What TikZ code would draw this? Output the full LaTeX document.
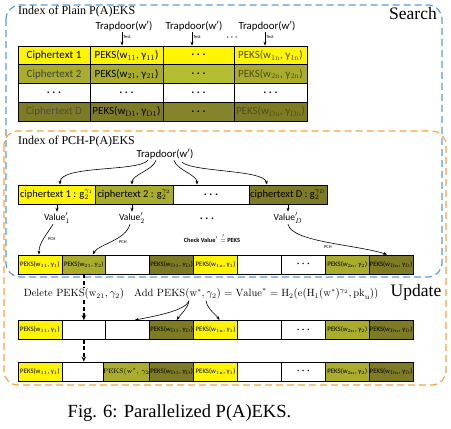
\documentclass[tikz,border=0pt]{standalone}
\usepackage{fontspec}
\newfontfamily\carl{Carlito}
\newfontfamily\tms{Liberation Serif}
\usetikzlibrary{arrows.meta}
\definecolor{yel}{HTML}{FFF500}
\definecolor{olv}{HTML}{A9AD2B}
\definecolor{olvL}{HTML}{B4BC2F}
\definecolor{dol}{HTML}{7E7B25}
\definecolor{dolL}{HTML}{86842A}
\definecolor{bluedash}{HTML}{5B9BD5}
\definecolor{orangedash}{HTML}{F4A340}
\definecolor{olvtxt}{HTML}{4E4E18}
\newcommand{\fsz}[1]{\fontsize{#1}{#1}\selectfont}
\newcommand{\pk}[2]{PEKS(w$_{\mathrm{#1}}$, γ$_{\mathrm{#2}}$)}
\newcommand{\dd}{{\boldmath$\cdots$}}
\begin{document}
\begin{tikzpicture}[x=1pt,y=-1pt,
  bigcell/.style={draw=black,line width=0.8pt,inner sep=0pt,minimum height=18.75pt,font=\carl\fsz{11}},
  midcell/.style={draw=black,line width=0.8pt,inner sep=0pt,minimum height=19pt,font=\carl\fsz{10.5}},
  smallcell/.style={draw=black,line width=0.8pt,inner sep=0pt,minimum height=19pt,minimum width=43.9pt,font=\carl\fsz{6.8}},
  arr/.style={line width=0.6pt,-{Stealth[length=4pt,width=3pt]}},
  darr/.style={line width=1.3pt,dash pattern=on 4pt off 2.5pt,-{Stealth[length=5pt,width=4.5pt]}},
  lbl/.style={inner sep=1pt},
  tiny/.style={inner sep=1pt,font=\carl\fsz{4.5}},
  boxblue/.style={draw=bluedash,line width=1.2pt,dash pattern=on 7pt off 4pt,rounded corners=14pt},
  boxorange/.style={draw=orangedash,line width=1.2pt,dash pattern=on 7pt off 4pt,rounded corners=14pt}
]
\useasboundingbox (0,0) rectangle (451,429);
% frames
\draw[boxorange] (4,131) rectangle (446,385);
\draw[boxblue] (6,5) rectangle (442,277);
% ---------- Search: plain index ----------
\node[lbl,anchor=west,font=\tms\fsz{12}] (idx1) at (17,12) {Index of Plain P(A)EKS};
\node[lbl,font=\tms\fsz{17.5}] (search) at (413,14) {Search};
\node[lbl,font=\carl\fsz{10.8}] (tdA) at (124,26) {Trapdoor(w$'$)};
\node[lbl,font=\carl\fsz{10.8}] (tdB) at (194,26) {Trapdoor(w$'$)};
\node[inner sep=0pt,font=\carl\fsz{8}] (tdD) at (232,38) {\dd};
\node[lbl,font=\carl\fsz{10.8}] (tdC) at (267,26) {Trapdoor(w$'$)};
% table rows
\node[bigcell,fill=yel,minimum width=72pt] (t11) at (54,55.4) {Ciphertext 1};
\node[bigcell,fill=yel,minimum width=73pt] (t12) at (126.5,55.4) {\pk{11}{11}};
\node[bigcell,fill=yel,minimum width=71pt] (t13) at (198.5,55.4) {\dd};
\node[bigcell,fill=yel,minimum width=73pt,text=olvtxt] (t14) at (270.5,55.4) {\pk{1n}{1n}};
\node[bigcell,fill=olv,minimum width=72pt,text=black!75] (t21) at (54,74.1) {Ciphertext 2};
\node[bigcell,fill=olv,minimum width=73pt] (t22) at (126.5,74.1) {\pk{21}{21}};
\node[bigcell,fill=olvL,minimum width=71pt] (t23) at (198.5,74.1) {\dd};
\node[bigcell,fill=olv,minimum width=73pt,text=olvtxt] (t24) at (270.5,74.1) {\pk{2n}{2n}};
\node[bigcell,fill=white,minimum width=72pt] (t31) at (54,92.9) {\dd};
\node[bigcell,fill=white,minimum width=73pt] (t32) at (126.5,92.9) {\dd};
\node[bigcell,fill=white,minimum width=71pt] (t33) at (198.5,92.9) {\dd};
\node[bigcell,fill=white,minimum width=73pt] (t34) at (270.5,92.9) {\dd};
\node[bigcell,fill=dol,minimum width=72pt,text=black!70] (t41) at (54,111.6) {Ciphertext D};
\node[bigcell,fill=dol,minimum width=73pt] (t42) at (126.5,111.6) {\pk{D1}{D1}};
\node[bigcell,fill=dolL,minimum width=71pt] (t43) at (198.5,111.6) {\dd};
\node[bigcell,fill=dol,minimum width=73pt,text=olvtxt] (t44) at (270.5,111.6) {\pk{Dn}{Dn}};
\draw[arr] ([xshift=-2pt]tdA.south) -- node[tiny,pos=0.35,right]{Test} ([xshift=-2pt]tdA.south |- t12.north);
\draw[arr] ([xshift=-2pt]tdB.south) -- node[tiny,pos=0.35,right]{Test} ([xshift=-2pt]tdB.south |- t13.north);
\draw[arr] ([xshift=-2pt]tdC.south) -- node[tiny,pos=0.35,right]{Test} ([xshift=-2pt]tdC.south |- t14.north);
% ---------- PCH index ----------
\node[lbl,anchor=west,font=\tms\fsz{12}] (idx2) at (17,142) {Index of PCH-P(A)EKS};
\node[lbl,font=\carl\fsz{10.8}] (trap) at (165,154) {Trapdoor(w$'$)};
\node[midcell,fill=yel,minimum width=77pt] (m1) at (56.5,194.5) {ciphertext 1 : g$_2^{\gamma_1}$};
\node[midcell,fill=olv,minimum width=78pt] (m2) at (134,194.5) {ciphertext 2 : g$_2^{\gamma_2}$};
\node[midcell,fill=white,minimum width=76pt] (m3) at (211,194.5) {\dd};
\node[midcell,fill=dol,minimum width=78pt] (m4) at (288,194.5) {ciphertext D : g$_2^{\gamma_D}$};
\draw[arr] ([xshift=-17pt]trap.south) .. controls (138,172) and (60,165) .. ([xshift=3.5pt]m1.north);
\draw[arr] ([xshift=-9pt]trap.south) .. controls +(-3,10) and +(0,-10) .. ([xshift=-2pt]m2.north);
\draw[arr] ([xshift=9pt]trap.south) .. controls +(3,10) and +(0,-10) .. ([xshift=-14pt]m3.north);
\draw[arr] ([xshift=17pt,yshift=-2pt]trap.south) .. controls +(12,10) and +(-3,-15) .. ([xshift=-21pt]m4.north);
\node[lbl,font=\carl\fsz{9.5}] (v1) at (57,218) {Value$'_1$};
\node[lbl,font=\carl\fsz{9.5}] (v2) at (132,218) {Value$'_2$};
\node[lbl,font=\carl\fsz{10.5}] (vd) at (207,219) {\dd};
\node[lbl,font=\carl\fsz{9.5}] (vD) at (288,218) {Value$'_D$};
\draw[arr] (m1.south -| v1.north) -- (v1.north);
\draw[arr] (m2.south -| v2.north) -- (v2.north);
\draw[arr] (m4.south -| vD.north) -- (vD.north);
\node[lbl,font=\carl\bfseries\fsz{6.3}] (chk) at (212,238) {Check Value$'\stackrel{?}{=}$ PEKS};
% bottom search row
\foreach \i/\c/\t in {1/yel/{\pk{11}{1}},2/olv/{\pk{21}{2}},3/white/{},4/dol/{\pk{D1}{D}},5/yel/{\pk{1n}{1}},6/white/{},7/white/{\fsz{10}\dd},8/olv/{\pk{2n}{2}},9/dol/{\pk{Dn}{D}}}
  \node[smallcell,fill=\c] (r3c\i) at ({18+43.9*(\i-0.5)},264.5) {\t};
\draw[arr] ([xshift=-4pt]v1.south) .. controls +(-6,10) and +(0,-12) .. ([xshift=-1pt]r3c1.north) node[tiny,pos=0.5,right=3pt]{PCH};
\draw[arr] ([xshift=-2pt]v2.south) .. controls +(-4,16) and +(5,-10) .. ([xshift=9pt]r3c2.north) node[tiny,pos=0.5,right=6pt]{PCH};
\draw[arr] (vD.south) .. controls +(4,18) and +(-30,-10) .. ([xshift=-4pt]r3c9.north) node[tiny,pos=0.5,below=2pt]{PCH};
% ---------- Update ----------
\foreach \i/\c/\t in {1/yel/{\pk{11}{1}},2/white/{},3/white/{},4/dol/{\pk{D1}{D}},5/yel/{\pk{1n}{1}},6/white/{},7/white/{\fsz{10}\dd},8/olv/{\pk{2n}{2}},9/dol/{\pk{Dn}{D}}}
  \node[smallcell,fill=\c] (r4c\i) at ({18+43.9*(\i-0.5)},330) {\t};
\foreach \i/\c/\t in {1/yel/{\pk{11}{1}},2/white/{},3/olv/{{\rmfamily\fsz{6.8}PEKS(w$^*$, $\gamma_2$)}},4/dol/{\pk{D1}{D}},5/yel/{\pk{1n}{1}},6/white/{},7/white/{\fsz{10}\dd},8/olv/{\pk{2n}{2}},9/dol/{\pk{Dn}{D}}}
  \node[smallcell,fill=\c] (r5c\i) at ({18+43.9*(\i-0.5)},371.5) {\t};
\draw[darr] (r3c2.south) -- (r4c2.north);
\draw[darr] (r4c2.south) -- (r5c2.north);
\node[fill=white,inner sep=1pt,font=\fsz{10.5}] (del) at (74,294) {Delete $\mathrm{PEKS}(\mathrm{w}_{21},\gamma_2)$};
\node[lbl,anchor=west,font=\fsz{10.5}] (add) at (133,294) {Add $\mathrm{PEKS}(\mathrm{w}^*,\gamma_2)=\mathrm{Value}^*=\mathrm{H}_2(\mathrm{e}(\mathrm{H}_1(\mathrm{w}^*)^{\gamma_2},\mathrm{pk}_\mathrm{u}))$};
\node[lbl,font=\tms\fsz{17.5}] (upd) at (416,292) {Update};
\coordinate (wst) at ([xshift=56pt]add.south west);
\coordinate (gam) at ([xshift=73pt]add.south west);
\draw[arr] (wst) .. controls +(-3,10) and +(20,-4) .. ([xshift=7pt]r4c3.north);
\draw[arr] (wst) .. controls +(-1,8) and +(4,-6) .. ([xshift=5pt]r4c4.north);
\draw[arr] (gam) .. controls +(1,8) and +(-4,-6) .. ([xshift=4pt]r4c5.north);
% caption
\node[lbl,font=\tms\fsz{18.5}] (cap) at (179.5,413) {Fig. 6: Parallelized P(A)EKS.};
\end{tikzpicture}
\end{document}
